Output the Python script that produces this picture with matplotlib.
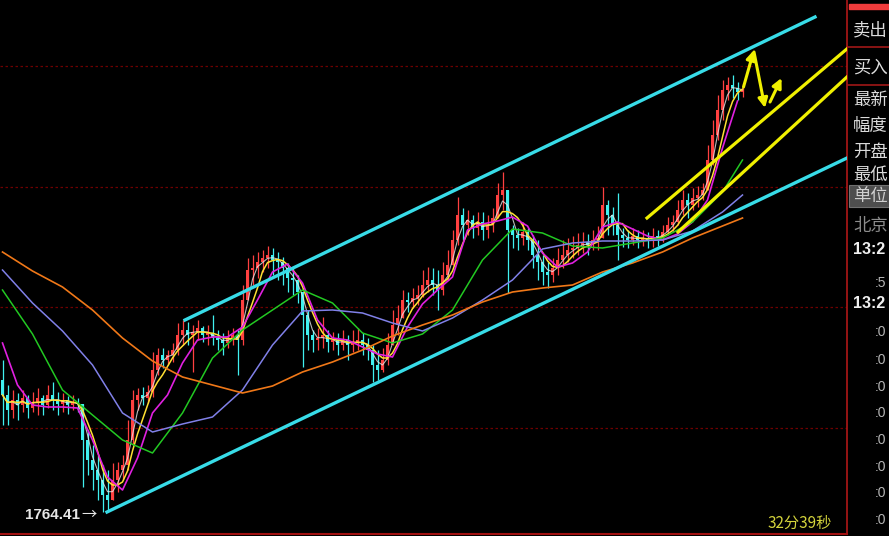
import numpy as np
import pandas as pd
import matplotlib
matplotlib.use("Agg")
import matplotlib.pyplot as plt
from matplotlib.patches import Rectangle

plt.rcParams['font.family'] = ['Noto Sans CJK SC', 'DejaVu Sans']

# 1-minute bars (price units)
first_open = 1777.6
closes = [1776.1, 1774.6, 1775.6, 1775.1, 1775.8, 1774.8, 1775.4, 1775.8, 1775.1, 1776.1,
          1775.6, 1775.2, 1775.6, 1775.1, 1775.4, 1775.2, 1771.6, 1769.6, 1768.6, 1767.6,
          1766.1, 1765.6, 1767.6, 1768.6, 1769.1, 1771.6, 1775.6, 1776.1, 1775.8, 1776.4,
          1778.6, 1780.1, 1779.6, 1780.1, 1780.6, 1782.1, 1782.6, 1782.1, 1782.4, 1782.8,
          1782.1, 1782.3, 1781.8, 1781.6, 1781.3, 1781.8, 1782.1, 1781.6, 1785.6, 1788.6,
          1788.8, 1789.4, 1789.8, 1790.1, 1789.6, 1789.4, 1788.8, 1787.8, 1787.6, 1786.4,
          1784.1, 1782.1, 1781.6, 1781.8, 1782.1, 1781.4, 1781.6, 1781.1, 1781.6, 1781.1,
          1781.4, 1781.6, 1781.1, 1780.6, 1779.1, 1778.6, 1779.6, 1781.1, 1783.1, 1783.8,
          1785.6, 1785.4, 1785.8, 1786.1, 1787.1, 1787.6, 1787.1, 1786.6, 1788.1, 1789.1,
          1791.6, 1794.1, 1793.1, 1793.6, 1792.8, 1793.4, 1792.6, 1793.1, 1793.8, 1796.1,
          1796.6, 1792.6, 1792.1, 1791.8, 1792.4, 1791.6, 1790.1, 1789.4, 1788.4, 1788.1,
          1788.8, 1789.6, 1790.1, 1790.6, 1790.8, 1791.1, 1791.4, 1791.1, 1791.6, 1791.8,
          1795.1, 1794.1, 1793.1, 1792.1, 1791.8, 1791.6, 1792.0, 1791.6, 1791.8, 1791.6,
          1792.0, 1791.8, 1792.4, 1793.1, 1793.4, 1794.6, 1795.6, 1795.1, 1795.8, 1796.1,
          1796.6, 1799.6, 1802.1, 1804.6, 1806.6, 1807.1, 1806.8, 1806.4, 1806.6]
highs = [1779.6, 1777.1, 1776.6, 1776.3, 1776.6, 1776.1, 1776.4, 1776.8, 1776.1, 1777.1,
         1777.4, 1776.4, 1776.3, 1776.0, 1776.1, 1775.8, 1775.1, 1772.6, 1771.1, 1770.1,
         1769.1, 1768.6, 1769.3, 1769.4, 1770.1, 1773.6, 1776.6, 1776.8, 1776.9, 1777.1,
         1780.4, 1780.8, 1780.8, 1780.6, 1781.3, 1783.3, 1783.6, 1783.4, 1783.1, 1783.6,
         1783.0, 1783.1, 1784.1, 1782.6, 1782.3, 1782.6, 1782.8, 1782.6, 1787.1, 1789.8,
         1790.1, 1790.4, 1790.6, 1791.0, 1790.8, 1790.4, 1789.9, 1789.3, 1788.8, 1788.1,
         1786.1, 1784.6, 1782.6, 1782.8, 1783.9, 1782.6, 1782.4, 1782.3, 1782.6, 1782.1,
         1782.6, 1782.8, 1782.3, 1781.8, 1781.1, 1780.6, 1780.8, 1782.3, 1784.6, 1785.1,
         1786.6, 1786.4, 1786.8, 1787.1, 1788.6, 1788.9, 1788.8, 1788.6, 1789.4, 1790.6,
         1792.6, 1795.9, 1794.8, 1794.6, 1794.1, 1794.4, 1794.4, 1794.1, 1794.8, 1797.3,
         1798.4, 1796.1, 1793.1, 1792.8, 1793.4, 1792.8, 1792.1, 1791.6, 1790.1, 1789.4,
         1789.8, 1790.8, 1791.6, 1791.8, 1792.0, 1792.3, 1792.4, 1792.2, 1792.6, 1793.0,
         1796.9, 1795.6, 1794.9, 1796.3, 1792.8, 1792.6, 1792.8, 1792.6, 1792.6, 1792.4,
         1792.8, 1792.6, 1793.1, 1793.9, 1794.1, 1795.6, 1796.6, 1796.3, 1796.8, 1797.0,
         1797.3, 1801.1, 1803.6, 1806.1, 1807.6, 1807.9, 1808.1, 1807.4, 1807.2]
lows = [1773.1, 1773.1, 1773.8, 1773.6, 1774.4, 1773.8, 1774.4, 1774.1, 1774.1, 1774.8,
        1774.6, 1774.1, 1774.4, 1774.2, 1774.6, 1774.4, 1766.9, 1768.1, 1766.6, 1765.6,
        1764.41, 1764.6, 1765.9, 1766.4, 1767.6, 1768.6, 1771.1, 1774.6, 1775.1, 1775.3,
        1775.9, 1778.1, 1778.8, 1779.1, 1779.4, 1780.1, 1781.1, 1781.1, 1778.4, 1781.6,
        1781.4, 1781.1, 1781.1, 1780.6, 1780.1, 1780.8, 1781.1, 1778.1, 1781.1, 1785.6,
        1787.1, 1787.8, 1788.4, 1788.8, 1788.1, 1787.6, 1787.1, 1786.4, 1786.1, 1785.3,
        1778.9, 1780.6, 1780.4, 1780.6, 1780.8, 1780.4, 1780.6, 1780.1, 1780.6, 1779.6,
        1780.4, 1780.6, 1780.1, 1779.6, 1777.4, 1777.6, 1778.4, 1779.1, 1781.6, 1782.1,
        1783.8, 1784.4, 1784.8, 1785.1, 1785.9, 1786.4, 1786.1, 1784.6, 1786.1, 1787.6,
        1789.4, 1791.1, 1791.6, 1792.1, 1791.8, 1792.1, 1791.6, 1791.8, 1792.4, 1794.1,
        1794.6, 1786.3, 1790.8, 1790.6, 1791.1, 1790.6, 1788.8, 1787.6, 1787.1, 1786.8,
        1787.4, 1788.1, 1788.8, 1789.4, 1789.8, 1790.1, 1790.3, 1790.1, 1790.6, 1790.6,
        1792.3, 1792.1, 1792.1, 1789.6, 1790.9, 1790.8, 1791.1, 1790.8, 1791.0, 1790.8,
        1790.9, 1791.0, 1791.4, 1792.1, 1792.4, 1793.1, 1794.1, 1793.8, 1794.6, 1794.9,
        1795.6, 1796.6, 1799.1, 1801.6, 1803.6, 1805.6, 1805.8, 1805.6, 1805.9]

# slower averages, sampled every 6 bars
ma_long_idx = list(range(0, 145, 6)) + [148]
ma_orange = [1790.4, 1788.5, 1786.9, 1784.6, 1781.8, 1779.5, 1777.9, 1777.1, 1776.3, 1777.0,
             1778.4, 1779.4, 1780.6, 1782.0, 1783.1, 1784.1, 1785.4, 1786.4, 1786.8, 1787.1,
             1788.4, 1789.3, 1790.4, 1791.8, 1793.0, 1793.8]
ma_purple = [1788.6, 1785.3, 1782.5, 1779.1, 1774.3, 1772.4, 1773.2, 1773.9, 1776.6, 1781.1,
             1784.5, 1784.6, 1784.3, 1783.3, 1782.5, 1783.8, 1785.6, 1787.6, 1790.7, 1791.3,
             1791.5, 1791.5, 1791.6, 1792.5, 1794.4, 1796.1]
ma_green = [1786.6, 1782.2, 1776.6, 1774.1, 1771.6, 1770.3, 1774.3, 1779.8, 1782.6, 1784.6,
            1786.6, 1785.3, 1782.3, 1781.3, 1782.2, 1784.6, 1789.6, 1792.7, 1792.3, 1791.0,
            1790.8, 1791.3, 1791.8, 1793.4, 1796.4, 1799.6]
# faster average, sampled every 3 bars
ma_mid_idx = list(range(0, 148, 3))
ma_magenta = [1781.3, 1777.1, 1775.1, 1774.9, 1774.9, 1774.8, 1771.6, 1767.9, 1766.6, 1769.8,
              1774.3, 1776.1, 1779.3, 1781.6, 1781.9, 1781.9, 1782.9, 1785.6, 1788.4, 1789.2,
              1787.3, 1783.6, 1781.8, 1781.6, 1780.9, 1780.2, 1779.9, 1782.9, 1785.2, 1786.6,
              1787.9, 1792.6, 1793.2, 1793.5, 1793.9, 1793.0, 1790.3, 1788.9, 1789.3, 1790.4,
              1792.9, 1793.4, 1792.7, 1792.0, 1791.6, 1792.2, 1793.4, 1795.6, 1800.8, 1805.5]

grid_levels = [1809.0, 1796.9, 1784.9, 1772.8]
low_bar = 20
low_label = "1764.41"
timer_label = "32分39秒"

# hand drawn lines (bar index, price)
channel_low = ([21.4, 169.4], [1764.4, 1799.8])
channel_high = ([37.0, 163.0], [1783.6, 1813.9])
yellow_up = ([129.4, 169.6], [1793.8, 1810.8])
yellow_dn = ([135.6, 169.6], [1792.4, 1808.0])
arrows = [((148.7, 1806.9), (150.8, 1810.6)),
          ((150.8, 1810.4), (153.0, 1804.8)),
          ((154.0, 1805.4), (156.3, 1807.8))]

side_labels = ["卖出", "买入", "最新", "幅度", "开盘", "最低"]
side_label_y = [30, 68, 100, 126, 152, 175]
time_ticks = [":0"] * 8
time_tick_y = [332, 360, 387, 413, 440, 467, 493, 520]

W, H = 889, 536
fig = plt.figure(figsize=(W / 100, H / 100), dpi=100, facecolor='black')
ax = fig.add_axes([0, 2 / H, 847 / W, 534 / H])
ax.set_facecolor('black')

closes = np.array(closes)
highs = np.array(highs)
lows = np.array(lows)
n = len(closes)
x = np.arange(n) + 0.5
opens = np.r_[first_open, closes[:-1]]
up = closes >= opens
top = np.maximum(highs, np.maximum(opens, closes))
bot = np.minimum(lows, np.minimum(opens, closes))

for lvl in grid_levels:
    ax.axhline(lvl, color='#6e0000', lw=0.9, ls=(0, (2, 2)), zorder=1)

red, cyan = '#ff4040', '#40f0f0'
ax.vlines(x[up], bot[up], top[up], color=red, lw=0.9, zorder=2)
ax.vlines(x[~up], bot[~up], top[~up], color=cyan, lw=0.9, zorder=2)
body_h = np.maximum(np.abs(closes - opens), 0.1)
ax.bar(x[up], body_h[up], bottom=np.minimum(opens, closes)[up], width=0.55,
       color=red, zorder=2)
ax.bar(x[~up], body_h[~up], bottom=np.minimum(opens, closes)[~up], width=0.55,
       color=cyan, zorder=2)

# moving averages
s = pd.Series(closes)
ax.plot(x, s.rolling(3, min_periods=1).mean(), color='#e8e8e8', lw=0.8, alpha=0.8, zorder=3)
ax.plot(x, s.rolling(5, min_periods=1).mean(), color='#ffe033', lw=1.1, zorder=3)
ax.plot(np.array(ma_mid_idx) + 0.5, ma_magenta, color='#e020e0', lw=1.2, zorder=3)
ax.plot(np.array(ma_long_idx) + 0.5, ma_green, color='#22c822', lw=1.1, zorder=3)
ax.plot(np.array(ma_long_idx) + 0.5, ma_purple, color='#8080e8', lw=1.1, zorder=3)
ax.plot(np.array(ma_long_idx) + 0.5, ma_orange, color='#f07818', lw=1.2, zorder=3)

# channel and trend lines
ax.plot(*channel_low, color='#38dce8', lw=2.4, zorder=4)
ax.plot(*channel_high, color='#38dce8', lw=2.4, zorder=4)
ax.plot(*yellow_up, color='#f0f000', lw=2.3, zorder=4)
ax.plot(*yellow_dn, color='#f0f000', lw=2.3, zorder=4)
for start, end in arrows:
    ax.annotate('', xy=end, xytext=start,
                arrowprops=dict(arrowstyle='-|>', color='#f0f000', lw=2.2,
                                mutation_scale=14, shrinkA=0, shrinkB=0), zorder=5)

# low price marker: number plus a wide arrow
low_xy = (low_bar + 0.5, lows[low_bar])
ax.annotate(low_label, xy=low_xy, xytext=(-22, -3),
            textcoords='offset pixels', ha='right', va='center', color='#e6e6e6',
            fontsize=11, fontweight='bold', family=['Liberation Sans', 'DejaVu Sans'])
ax.annotate("→", xy=low_xy, xytext=(-21, -3), textcoords='offset pixels',
            ha='left', va='center', color='#e6e6e6', fontsize=11,
            family=['Noto Sans CJK SC', 'DejaVu Sans'])

ax.set_xlim(0, 169.4)
ax.set_ylim(1762.2, 1815.6)
ax.set_xticks([])
ax.set_yticks([])
for side in ['top', 'left']:
    ax.spines[side].set_visible(False)
ax.spines['bottom'].set_color('#a01010')
ax.spines['bottom'].set_linewidth(1.5)
ax.spines['right'].set_color('#b01818')
ax.spines['right'].set_linewidth(1.2)

fig.text(768 / W, 1 - 523 / H, timer_label, color='#d4d43c', fontsize=11,
         va='center', ha='left')

# right hand quote panel
sp = fig.add_axes([847 / W, 0, 42 / W, 1])
sp.set_xlim(847, 889)
sp.set_ylim(536, 0)
sp.axis('off')
sp.add_patch(Rectangle((849, 3.5), 40, 5.5, color='#f03c3c'))
sp.plot([847, 889], [47, 47], color='#a01818', lw=1.2)
sp.plot([847, 889], [85, 85], color='#a01818', lw=1.2)
sp.add_patch(Rectangle((849, 185), 40, 22, facecolor='#4e4e4e', edgecolor='#707070', lw=0.8))
for lab, yy in zip(side_labels, side_label_y):
    sp.text(853, yy, lab, color='#dcdcdc', fontsize=12.5, va='center', ha='left')
sp.text(853, 196, "单位", color='#d0d0d0', fontsize=12.5, va='center', ha='left')
sp.text(853, 226, "北京", color='#8c8c8c', fontsize=12.5, va='center', ha='left')
num_font = ['Liberation Sans', 'DejaVu Sans']
sp.text(853, 250, "13:2", color='#f0f0f0', fontsize=11.5, fontweight='bold',
        va='center', ha='left', family=num_font)
sp.text(853, 304, "13:2", color='#f0f0f0', fontsize=11.5, fontweight='bold',
        va='center', ha='left', family=num_font)
sp.text(875, 283, ":5", color='#b4b4b4', fontsize=10, va='center', ha='left', family=num_font)
for lab, yy in zip(time_ticks, time_tick_y):
    sp.text(875, yy, lab, color='#b4b4b4', fontsize=10, va='center', ha='left', family=num_font)

fig.savefig('out.png', dpi=100, facecolor='black')
